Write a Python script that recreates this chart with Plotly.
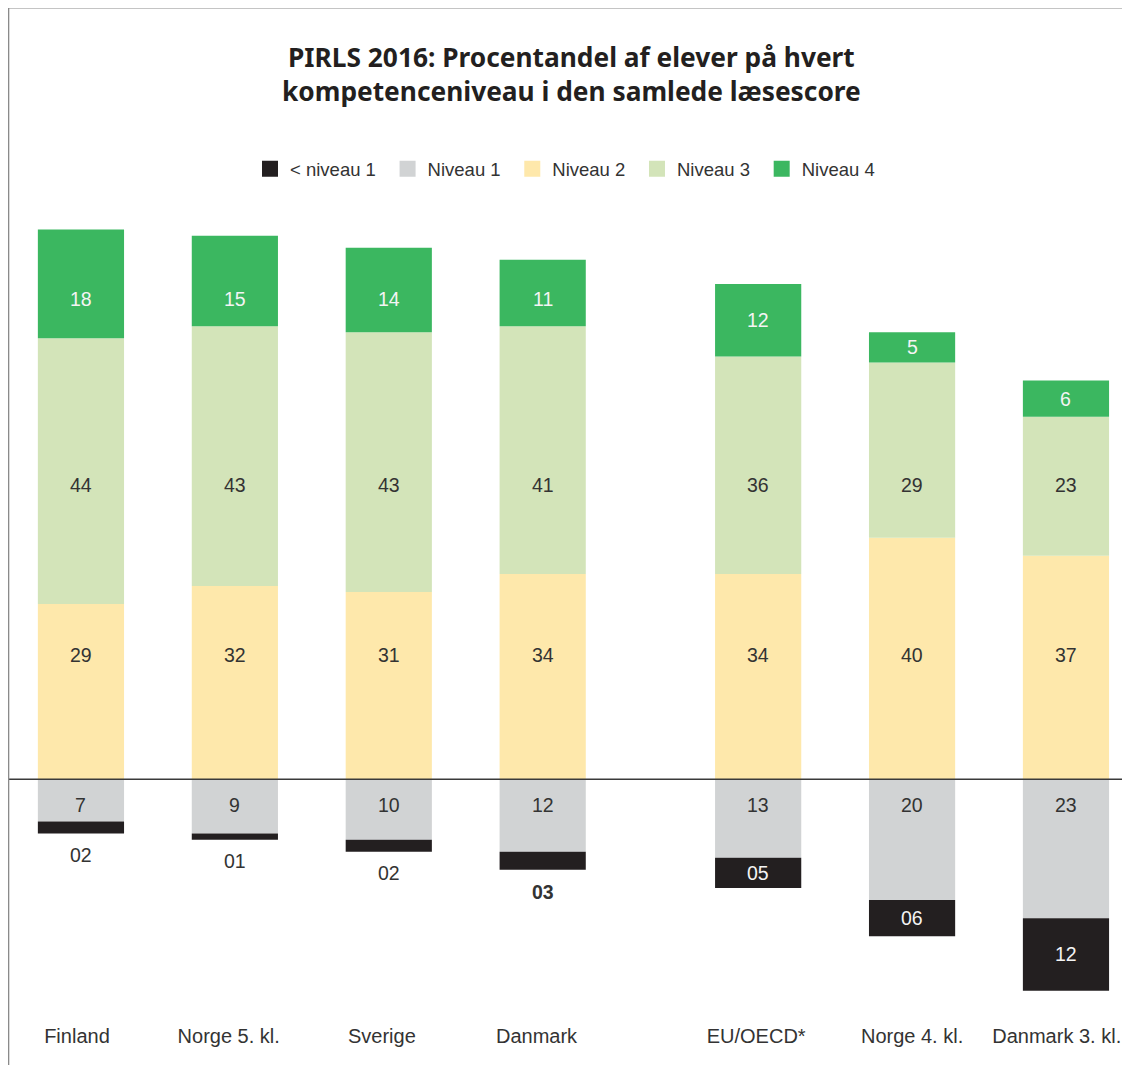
import plotly.graph_objects as go

# ---- data ----
categories = ["Finland", "Norge 5. kl.", "Sverige", "Danmark", "EU/OECD*", "Norge 4. kl.", "Danmark 3. kl."]
below_niveau1 = [2, 1, 2, 3, 5, 6, 12]
niveau1 = [7, 9, 10, 12, 13, 20, 23]
niveau2 = [29, 32, 31, 34, 34, 40, 37]
niveau3 = [44, 43, 43, 41, 36, 29, 23]
niveau4 = [18, 15, 14, 11, 12, 5, 6]

# layout positions (extra gap before EU/OECD*)
x_pos = [0, 1, 2, 3, 4.4, 5.4, 6.4]
# tick label positions (as placed in the original layout)
tick_pos = [-0.026, 0.96, 1.955, 2.96, 4.387, 5.4, 6.34]

BLACK = "#231f20"
GRAY = "#d1d3d4"
YELLOW = "#fee8ab"
LGREEN = "#d3e4b9"
GREEN = "#3bb760"
TXT = "#333333"
FONT = "Liberation Sans, Arial, sans-serif"
BW = 0.56

fig = go.Figure()
fig.add_bar(x=x_pos, y=[-v for v in niveau1], name="Niveau 1", marker_color=GRAY, showlegend=False, width=BW)
fig.add_bar(x=x_pos, y=[-v for v in below_niveau1], name="< niveau 1", marker_color=BLACK, showlegend=False, width=BW)
fig.add_bar(x=x_pos, y=niveau2, name="Niveau 2", marker_color=YELLOW, showlegend=False, width=BW)
fig.add_bar(x=x_pos, y=niveau3, name="Niveau 3", marker_color=LGREEN, showlegend=False, width=BW)
fig.add_bar(x=x_pos, y=niveau4, name="Niveau 4", marker_color=GREEN, showlegend=False, width=BW)
fig.update_traces(marker_line_width=0, hoverinfo="skip")

# legend entries (square markers, larger than the default bar swatch)
legend_items = [("< niveau 1", BLACK), ("Niveau 1", GRAY), ("Niveau 2", YELLOW),
                ("Niveau 3", LGREEN), ("Niveau 4", GREEN)]
for k, (nm, col) in enumerate(legend_items):
    pad = "\u00a0\u200a" if k < len(legend_items) - 1 else ""
    fig.add_scatter(x=[None], y=[None], mode="markers", name=nm + pad,
                    marker=dict(symbol="square", size=18, color=col, line=dict(width=0)))

ann = []
G4_MAX = 79.5
LG_Y = 48.8
Y_Y = 20.5
G_Y = -4.3
fs = 19.5
for i, x in enumerate(x_pos):
    y4 = min(niveau2[i] + niveau3[i] + niveau4[i] / 2, G4_MAX)
    ann.append(dict(x=x, y=y4, text=str(niveau4[i]), font=dict(color="#f4f4f4", size=fs, family=FONT)))
    ann.append(dict(x=x, y=LG_Y, text=str(niveau3[i]), font=dict(color=TXT, size=fs, family=FONT)))
    ann.append(dict(x=x, y=Y_Y, text=str(niveau2[i]), font=dict(color=TXT, size=fs, family=FONT)))
    ann.append(dict(x=x, y=G_Y, text=str(niveau1[i]), font=dict(color=TXT, size=fs, family=FONT)))
    b = below_niveau1[i]
    lbl = f"{b:02d}"
    if b >= 5:
        ann.append(dict(x=x, y=-(niveau1[i] + b / 2), text=lbl, font=dict(color="#f4f4f4", size=fs, family=FONT)))
    else:
        if categories[i] == "Danmark":
            lbl = "<b>" + lbl + "</b>"
        ann.append(dict(x=x, y=-(niveau1[i] + b) - 3.6, text=lbl, font=dict(color=TXT, size=fs, family=FONT)))
for a in ann:
    a.update(xref="x", yref="y", showarrow=False, xanchor="center", yanchor="middle")

ann.append(dict(xref="paper", yref="paper", x=0.506, y=1.155, xanchor="center", yanchor="middle",
                showarrow=False,
                text="<b>PIRLS 2016: Procentandel af elever på hvert<br>kompetenceniveau i den samlede læsescore</b>",
                font=dict(family="Noto Sans, sans-serif", size=26.3, color=BLACK)))

fig.update_layout(
    width=1114, height=1057,
    margin=dict(l=0, r=0, t=192, b=55),
    barmode="relative",
    plot_bgcolor="white", paper_bgcolor="white",
    font=dict(family=FONT, color=TXT, size=18),
    showlegend=True,
    legend=dict(orientation="h", x=0.5, xanchor="center", y=1.038, yanchor="middle",
                font=dict(size=18.5, color=TXT, family=FONT), traceorder="normal",
                itemsizing="trace"),
    xaxis=dict(tickvals=tick_pos, ticktext=categories, range=[-0.474, 6.764], showgrid=False,
               zeroline=False, showline=False, ticklabelstandoff=12, ticklabeloverflow="allow",
               tickfont=dict(size=20, color=TXT, family=FONT)),
    yaxis=dict(visible=False, range=[-38.2, 95.9]),
    annotations=ann,
    shapes=[
        dict(type="line", xref="paper", yref="y", x0=0, x1=1, y0=0, y1=0,
             line=dict(color="#3a3a3a", width=1.3), layer="above"),
        dict(type="line", xref="paper", yref="paper", x0=0.0005, x1=0.0005, y0=-0.1, y1=1.2375,
             line=dict(color="#8a8a8a", width=1.5)),
        dict(type="line", xref="paper", yref="paper", x0=0, x1=1.01, y0=1.2375, y1=1.2375,
             line=dict(color="#8a8a8a", width=1.5)),
    ],
)

fig.write_html("out.html")
